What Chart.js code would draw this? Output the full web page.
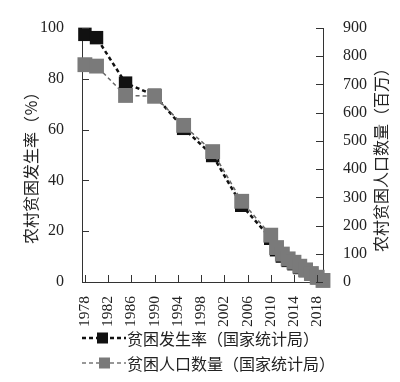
<!DOCTYPE html>
<html>
<head>
<meta charset="utf-8">
<script src="https://cdn.jsdelivr.net/npm/chart.js@4/dist/chart.umd.min.js"></script>
<style>
  html, body { margin: 0; padding: 0; background: #fff; }
  #wrap { position: relative; width: 400px; height: 382px; overflow: hidden; }
  canvas { position: absolute; left: 0; top: 0; }
  .ytitle { position: absolute; white-space: nowrap; font-family: "Noto Sans CJK SC", "Liberation Serif", serif; font-size: 16px; color: #222; transform: translate(-50%, -50%) rotate(-90deg); }
  .leg { position: absolute; left: 82px; height: 20px; display: flex; align-items: center; font-family: "Noto Sans CJK SC", serif; font-size: 16px; color: #222; white-space: nowrap; }
  .leg svg { margin-right: 1px; }
</style>
</head>
<body>
<div id="wrap">
  <canvas id="c" width="400" height="382"></canvas>
  <div class="ytitle" style="left:30px; top:164px;">农村贫困发生率（％）</div>
  <div class="ytitle" style="left:380px; top:156px;">农村贫困人口数量（百万）</div>
  <div class="leg" style="top:328px;">
    <svg width="44" height="14"><line x1="0" y1="7" x2="44" y2="7" stroke="#111" stroke-width="2.5" stroke-dasharray="4,3"/><rect x="15" y="1.5" width="11" height="11" fill="#111"/></svg>
    <span id="leg1"></span>
  </div>
  <div class="leg" style="top:353px;">
    <svg width="44" height="14"><line x1="0" y1="7" x2="44" y2="7" stroke="#777" stroke-width="1.5" stroke-dasharray="4,3"/><rect x="17" y="1.5" width="11" height="11" fill="#7a7a7a"/></svg>
    <span id="leg2"></span>
  </div>
</div>
<script>
const years = [1978, 1980, 1985, 1990, 1995, 2000, 2005, 2010, 2011, 2012, 2013, 2014, 2015, 2016, 2017, 2018, 2019];
const povertyRate = [97.5, 96.2, 78.3, 73.5, 60.5, 49.8, 30.2, 17.2, 12.7, 10.2, 8.5, 7.2, 5.7, 4.5, 3.1, 1.7, 0.6];
const povertyPop = [770, 765, 661, 658, 555, 462, 286, 166, 122, 99, 82, 70, 56, 43, 30, 17, 5.5];
const xTickValues = [1978, 1982, 1986, 1990, 1994, 1998, 2002, 2006, 2010, 2014, 2018];
const leftTicks = [0, 20, 40, 60, 80, 100];
const rightTicks = [0, 100, 200, 300, 400, 500, 600, 700, 800, 900];
const seriesNames = ['贫困发生率（国家统计局）', '贫困人口数量（国家统计局）'];

document.getElementById('leg1').textContent = seriesNames[0];
document.getElementById('leg2').textContent = seriesNames[1];

const tickFontY = { family: '"Liberation Serif", "Times New Roman", serif', size: 16 };
const tickFontX = { family: '"Liberation Serif", "Times New Roman", serif', size: 15.5 };
const axisColor = '#333';

const innerTicks = {
  id: 'innerTicks',
  afterDatasetsDraw(chart) {
    const ctx = chart.ctx;
    const a = chart.chartArea;
    const x = chart.scales.x, y = chart.scales.y, y2 = chart.scales.y2;
    ctx.save();
    ctx.strokeStyle = axisColor;
    ctx.lineWidth = 1;
    ctx.beginPath();
    xTickValues.forEach(v => {
      const p = Math.round(x.getPixelForValue(v)) + 0.5;
      ctx.moveTo(p, a.bottom); ctx.lineTo(p, a.bottom - 7);
    });
    leftTicks.forEach(v => {
      const p = Math.round(y.getPixelForValue(v)) + 0.5;
      ctx.moveTo(a.left, p); ctx.lineTo(a.left + 7, p);
    });
    rightTicks.forEach(v => {
      const p = Math.round(y2.getPixelForValue(v)) + 0.5;
      ctx.moveTo(a.right, p); ctx.lineTo(a.right - 7, p);
    });
    ctx.stroke();
    ctx.restore();
  }
};

new Chart(document.getElementById('c'), {
  type: 'line',
  data: {
    datasets: [
      {
        label: seriesNames[0],
        data: years.map((yr, i) => ({ x: yr, y: povertyRate[i] })),
        yAxisID: 'y',
        borderColor: '#111',
        backgroundColor: '#111',
        borderWidth: 2.5,
        borderDash: [4, 3],
        pointStyle: 'rect',
        pointRadius: 9.5,
        pointBorderWidth: 0,
        pointBackgroundColor: '#111',
        tension: 0,
        clip: false,
        order: 1
      },
      {
        label: seriesNames[1],
        data: years.map((yr, i) => ({ x: yr, y: povertyPop[i] })),
        yAxisID: 'y2',
        borderColor: '#666',
        backgroundColor: '#7a7a7a',
        borderWidth: 1.5,
        borderDash: [4, 3],
        pointStyle: 'rect',
        pointRadius: 10.5,
        pointBorderWidth: 0,
        pointBackgroundColor: '#7a7a7a',
        tension: 0,
        clip: false,
        order: 0
      }
    ]
  },
  options: {
    responsive: false,
    animation: false,
    devicePixelRatio: 1,
    layout: { padding: { top: 28, left: 0, right: 0, bottom: 0 } },
    plugins: { legend: { display: false }, tooltip: { enabled: false } },
    scales: {
      x: {
        type: 'linear',
        min: 1977.5,
        max: 2019,
        afterBuildTicks: s => { s.ticks = xTickValues.map(v => ({ value: v })); },
        afterFit: s => { s.height = 100; },
        grid: { display: false },
        border: { display: true, color: axisColor, width: 1 },
        ticks: {
          autoSkip: false,
          minRotation: 90,
          maxRotation: 90,
          padding: 6,
          color: '#222',
          font: tickFontX,
          callback: v => String(v)
        }
      },
      y: {
        position: 'left',
        min: 0,
        max: 100,
        afterBuildTicks: s => { s.ticks = leftTicks.map(v => ({ value: v })); },
        afterFit: s => { s.width = 82; },
        grid: { display: false },
        border: { display: true, color: axisColor, width: 1 },
        ticks: { padding: 10, color: '#222', font: tickFontY }
      },
      y2: {
        position: 'right',
        min: 0,
        max: 900,
        afterBuildTicks: s => { s.ticks = rightTicks.map(v => ({ value: v })); },
        afterFit: s => { s.width = 77; },
        grid: { display: false },
        border: { display: true, color: axisColor, width: 1 },
        ticks: { padding: 12, color: '#222', font: tickFontY }
      }
    }
  },
  plugins: [innerTicks]
});
</script>
</body>
</html>
